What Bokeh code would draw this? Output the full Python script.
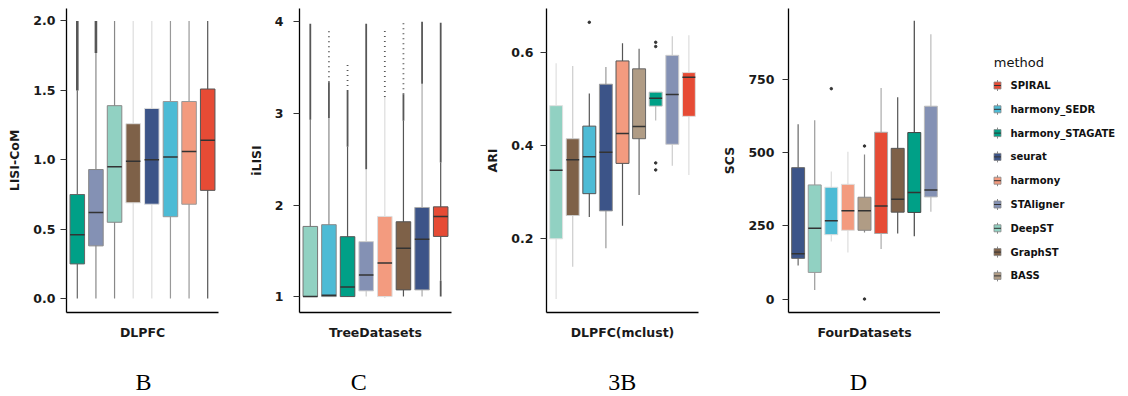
from bokeh.plotting import figure
from bokeh.models import ColumnDataSource, Range1d, FixedTicker, NumeralTickFormatter
from bokeh.layouts import row, column
from bokeh.transform import dodge
from bokeh.embed import file_html
from bokeh.resources import INLINE
from bokeh.core.properties import value

# ---------------- data ----------------
legend_methods = ["SPIRAL", "harmony_SEDR", "harmony_STAGATE", "seurat", "harmony",
                  "STAligner", "DeepST", "GraphST", "BASS"]
legend_colors = ["#E64B35", "#4DBBD5", "#00A087", "#3C5488", "#F39B7F",
                 "#8491B4", "#91D1C2", "#7E6148", "#B09C85"]

# Panel B : LISI-CoM on DLPFC
b_methods = ["harmony_STAGATE", "STAligner", "DeepST", "GraphST", "seurat", "harmony_SEDR", "harmony", "SPIRAL"]
b_q1 = [0.25, 0.38, 0.55, 0.69, 0.68, 0.59, 0.68, 0.78]
b_med = [0.46, 0.62, 0.95, 0.99, 1.00, 1.02, 1.06, 1.14]
b_q3 = [0.75, 0.93, 1.39, 1.26, 1.37, 1.42, 1.42, 1.51]
b_lo = [0.0, 0.0, 0.0, 0.0, 0.0, 0.0, 0.0, 0.0]
b_hi = [1.50, 1.77, 2.0, 2.0, 2.0, 2.0, 2.0, 2.0]
b_dense_method = ["harmony_STAGATE", "STAligner"]
b_dense_lo = [1.50, 1.77]
b_dense_hi = [2.0, 2.0]

# Panel C : iLISI on TreeDatasets
c_methods = ["DeepST", "harmony_SEDR", "harmony_STAGATE", "STAligner", "harmony", "GraphST", "seurat", "SPIRAL"]
c_q1 = [1.0, 1.0, 1.0, 1.062, 1.0, 1.073, 1.073, 1.657]
c_med = [1.0, 1.015, 1.105, 1.236, 1.367, 1.527, 1.625, 1.875]
c_q3 = [1.766, 1.785, 1.654, 1.60, 1.875, 1.817, 1.973, 1.98]
c_lo = [1.0, 1.0, 1.0, 1.0, 0.985, 1.0, 1.0, 1.174]
c_hi = [2.93, 2.95, 2.635, 2.39, 3.18, 2.92, 3.325, 2.464]
c_dense_method = ["DeepST", "harmony_SEDR", "harmony_STAGATE", "STAligner", "GraphST", "seurat", "SPIRAL", "SPIRAL"]
c_dense_lo = [2.93, 2.95, 2.635, 2.39, 2.92, 3.325, 2.464, 1.0]
c_dense_hi = [3.98, 3.34, 3.245, 3.98, 3.21, 4.0, 3.99, 1.174]
c_sparse_method = ["harmony_SEDR", "harmony_STAGATE", "harmony", "GraphST"]
c_sparse_lo = [3.34, 3.245, 3.18, 3.21]
c_sparse_hi = [3.93, 3.535, 3.93, 3.99]

# Panel 3B : ARI on DLPFC (mclust)
a_methods = ["DeepST", "GraphST", "harmony_SEDR", "seurat", "harmony", "BASS", "harmony_STAGATE", "STAligner", "SPIRAL"]
a_q1 = [0.199, 0.249, 0.296, 0.259, 0.361, 0.414, 0.484, 0.402, 0.462]
a_med = [0.346, 0.369, 0.375, 0.385, 0.425, 0.440, 0.501, 0.509, 0.546]
a_q3 = [0.485, 0.414, 0.441, 0.531, 0.581, 0.564, 0.514, 0.593, 0.556]
a_lo = [0.070, 0.139, 0.246, 0.179, 0.227, 0.293, 0.453, 0.356, 0.336]
a_hi = [0.576, 0.570, 0.511, 0.568, 0.619, 0.607, 0.514, 0.634, 0.636]
a_out_method = ["harmony_SEDR", "harmony_STAGATE", "harmony_STAGATE", "harmony_STAGATE", "harmony_STAGATE"]
a_out_value = [0.664, 0.621, 0.612, 0.362, 0.347]

# Panel D : SCS on FourDatasets
d_methods = ["seurat", "DeepST", "harmony_SEDR", "harmony", "BASS", "SPIRAL", "GraphST", "harmony_STAGATE", "STAligner"]
d_q1 = [139, 91, 220, 235, 235, 224, 297, 296, 349]
d_med = [155, 242, 268, 302, 302, 318, 341, 364, 373]
d_q3 = [449, 390, 382, 392, 348, 570, 515, 569, 659]
d_lo = [115, 31, 197, 159, 227, 171, 224, 215, 298]
d_hi = [597, 611, 436, 503, 494, 721, 690, 951, 905]
d_out_method = ["harmony_SEDR", "BASS", "BASS"]
d_out_value = [719, 523, 0]

b_ticks = [0.0, 0.5, 1.0, 1.5, 2.0]
c_ticks = [1, 2, 3, 4]
a_ticks = [0.2, 0.4, 0.6]
d_ticks = [0, 250, 500, 750]

panel_letters = ["B", "C", "3B", "D"]

# ---------------- styles ----------------
b_shades = ["#666666", "#888888", "#888888", "#dddddd", "#dddddd", "#999999", "#999999", "#555555"]
c_shades = ["#777777", "#888888", "#555555", "#cccccc", "#dddddd", "#555555", "#aaaaaa", "#555555"]
a_shades = ["#e0e0e0", "#cccccc", "#555555", "#999999", "#555555", "#666666", "#bbbbbb", "#cccccc", "#dddddd"]
d_shades = ["#666666", "#999999", "#dddddd", "#dddddd", "#888888", "#aaaaaa", "#555555", "#444444", "#bbbbbb"]

COLOR = dict(zip(legend_methods, legend_colors))
SANS = "DejaVu Sans"
FRAME_W, FRAME_H = 152, 304
TOP, BOTTOM = 8, 40
BOX_W = 0.78
PAGE_W = 1125
LET_H = 44


def make_panel(meths, q1, med, q3, lo, hi, shades, ylim, ticks, fmt, ylabel, xlabel,
               border_left, border_right, tick_standoff,
               dense=None, sparse=None, points=None, dense_width=2.0):
    n = len(meths)
    pos = {m: i + 1 for i, m in enumerate(meths)}
    src = ColumnDataSource(dict(x=[pos[m] for m in meths], q1=q1, med=med, q3=q3, lo=lo, hi=hi,
                                fill=[COLOR[m] for m in meths], shade=shades))
    p = figure(frame_width=FRAME_W, frame_height=FRAME_H,
               x_range=Range1d(0.42, n + 0.58), y_range=Range1d(*ylim),
               output_backend="svg", toolbar_location=None,
               min_border_left=border_left, min_border_right=border_right,
               min_border_top=TOP, min_border_bottom=BOTTOM)
    p.segment(x0="x", y0="lo", x1="x", y1="hi", line_color="shade", line_width=1.2, source=src)
    if dense:
        dm, dlo, dhi = dense
        dsrc = ColumnDataSource(dict(x=[pos[m] for m in dm], lo=dlo, hi=dhi))
        p.segment(x0="x", y0="lo", x1="x", y1="hi", line_color="#3a3a3a", line_alpha=0.85,
                  line_width=dense_width, source=dsrc)
    if sparse:
        sm, slo, shi = sparse
        ssrc = ColumnDataSource(dict(x=[pos[m] for m in sm], lo=slo, hi=shi))
        p.segment(x0="x", y0="lo", x1="x", y1="hi", line_color="#3a3a3a", line_alpha=0.85,
                  line_width=1.8, line_dash="1 4", source=ssrc)
    p.vbar(x="x", width=BOX_W, bottom="q1", top="q3", fill_color="fill", line_color="shade",
           line_width=1.0, source=src)
    p.segment(x0=dodge("x", -BOX_W / 2, range=p.x_range), x1=dodge("x", BOX_W / 2, range=p.x_range),
              y0="med", y1="med", line_color="#333333", line_width=1.5, source=src)
    if points:
        pm, pv = points
        psrc = ColumnDataSource(dict(x=[pos[m] for m in pm], y=pv))
        p.scatter(x="x", y="y", size=2.5, color="#333333", source=psrc)

    p.xgrid.visible = False
    p.ygrid.visible = False
    p.outline_line_color = None
    p.background_fill_color = "white"

    xa = p.xaxis[0]
    xa.ticker = FixedTicker(ticks=[])
    xa.axis_label = xlabel
    xa.axis_label_text_font = SANS
    xa.axis_label_text_font_size = "12.5px"
    xa.axis_label_text_font_style = "bold"
    xa.axis_label_text_color = "#1a1a1a"
    xa.axis_label_standoff = 12
    xa.major_tick_out = 0
    xa.major_tick_in = 0
    xa.minor_tick_out = 0
    xa.minor_tick_in = 0
    xa.major_label_standoff = 0
    xa.axis_line_color = "black"
    xa.axis_line_width = 1.3

    ya = p.yaxis[0]
    ya.ticker = FixedTicker(ticks=ticks)
    ya.formatter = NumeralTickFormatter(format=fmt)
    ya.axis_label = ylabel
    ya.axis_label_text_font = SANS
    ya.axis_label_text_font_size = "12.5px"
    ya.axis_label_text_font_style = "bold"
    ya.axis_label_text_color = "#1a1a1a"
    ya.axis_label_standoff = 8
    ya.major_label_text_font = SANS
    ya.major_label_text_font_size = "12.5px"
    ya.major_label_text_font_style = "bold"
    ya.major_label_text_color = "#1a1a1a"
    ya.major_label_standoff = tick_standoff
    ya.major_tick_out = 6
    ya.major_tick_in = 0
    ya.minor_tick_out = 0
    ya.minor_tick_in = 0
    ya.major_tick_line_color = "#333333"
    ya.major_tick_line_width = 1.2
    ya.axis_line_color = "black"
    ya.axis_line_width = 1.3
    return p


pB = make_panel(b_methods, b_q1, b_med, b_q3, b_lo, b_hi, b_shades, (-0.1, 2.09), b_ticks, "0.0",
                "LISI-CoM", "DLPFC", 66, 10, 5,
                dense=(b_dense_method, b_dense_lo, b_dense_hi), dense_width=2.6)
pC = make_panel(c_methods, c_q1, c_med, c_q3, c_lo, c_hi, c_shades, (0.826, 4.146), c_ticks, "0",
                "iLISI", "TreeDatasets", 71, 10, 10,
                dense=(c_dense_method, c_dense_lo, c_dense_hi),
                sparse=(c_sparse_method, c_sparse_lo, c_sparse_hi), dense_width=1.8)
pA = make_panel(a_methods, a_q1, a_med, a_q3, a_lo, a_hi, a_shades, (0.0408, 0.6936), a_ticks, "0.0",
                "ARI", "DLPFC(mclust)", 85, 10, 7,
                points=(a_out_method, a_out_value))
pD = make_panel(d_methods, d_q1, d_med, d_q3, d_lo, d_hi, d_shades, (-46, 993), d_ticks, "0",
                "SCS", "FourDatasets", 80, 0, 8,
                points=(d_out_method, d_out_value))

# ---------------- legend panel (page-pixel coordinates) ----------------
LX0, LW = 940, 185
pl = figure(frame_width=LW, frame_height=FRAME_H, x_range=Range1d(LX0, LX0 + LW),
            y_range=Range1d(TOP + FRAME_H, TOP),
            output_backend="svg", toolbar_location=None, x_axis_type=None, y_axis_type=None,
            min_border_left=0, min_border_right=0, min_border_top=TOP, min_border_bottom=BOTTOM)
pl.xgrid.visible = False
pl.ygrid.visible = False
pl.outline_line_color = None
ky = [85 + 23.8 * i for i in range(len(legend_methods))]
kx = [LX0 + 57] * len(legend_methods)
lsrc = ColumnDataSource(dict(x=kx, y=ky, fill=legend_colors, label=legend_methods,
                             tx=[LX0 + 70] * len(legend_methods)))
pl.segment(x0="x", x1="x", y0=dodge("y", -5.5, range=pl.y_range), y1=dodge("y", 5.5, range=pl.y_range),
           line_color="#888888", line_width=1, source=lsrc)
pl.rect(x="x", y="y", width=7, height=7, width_units="screen", height_units="screen",
        fill_color="fill", line_color="#888888", line_width=0.8, source=lsrc)
pl.segment(x0=dodge("x", -3.5, range=pl.x_range), x1=dodge("x", 3.5, range=pl.x_range), y0="y", y1="y",
           line_color="#333333", line_width=1, source=lsrc)
pl.text(x="tx", y="y", text="label", text_font=value(SANS), text_font_size=value("10px"),
        text_font_style="bold", text_baseline="middle", text_align="left", text_color="#111111",
        source=lsrc)
pl.text(x=[LX0 + 53.3], y=[61.7], text=["method"], text_font=value(SANS), text_font_size=value("13px"),
        text_baseline="middle", text_align="left", text_color="#111111")

# ---------------- panel letters strip ----------------
letter_x = [143, 358.3, 621.7, 858]
pt = figure(frame_width=PAGE_W, frame_height=LET_H, x_range=Range1d(0, PAGE_W),
            y_range=Range1d(LET_H, 0),
            output_backend="svg", toolbar_location=None, x_axis_type=None, y_axis_type=None,
            min_border=0)
pt.xgrid.visible = False
pt.ygrid.visible = False
pt.outline_line_color = None
pt.text(x=letter_x, y=[29] * len(panel_letters), text=panel_letters,
        text_font=value("Liberation Serif"), text_font_size=value("24px"),
        text_align="center", text_baseline="middle", text_color="black")

layout = column(row(pB, pC, pA, pD, pl), pt)
open("out.html", "w").write(file_html(layout, INLINE))
